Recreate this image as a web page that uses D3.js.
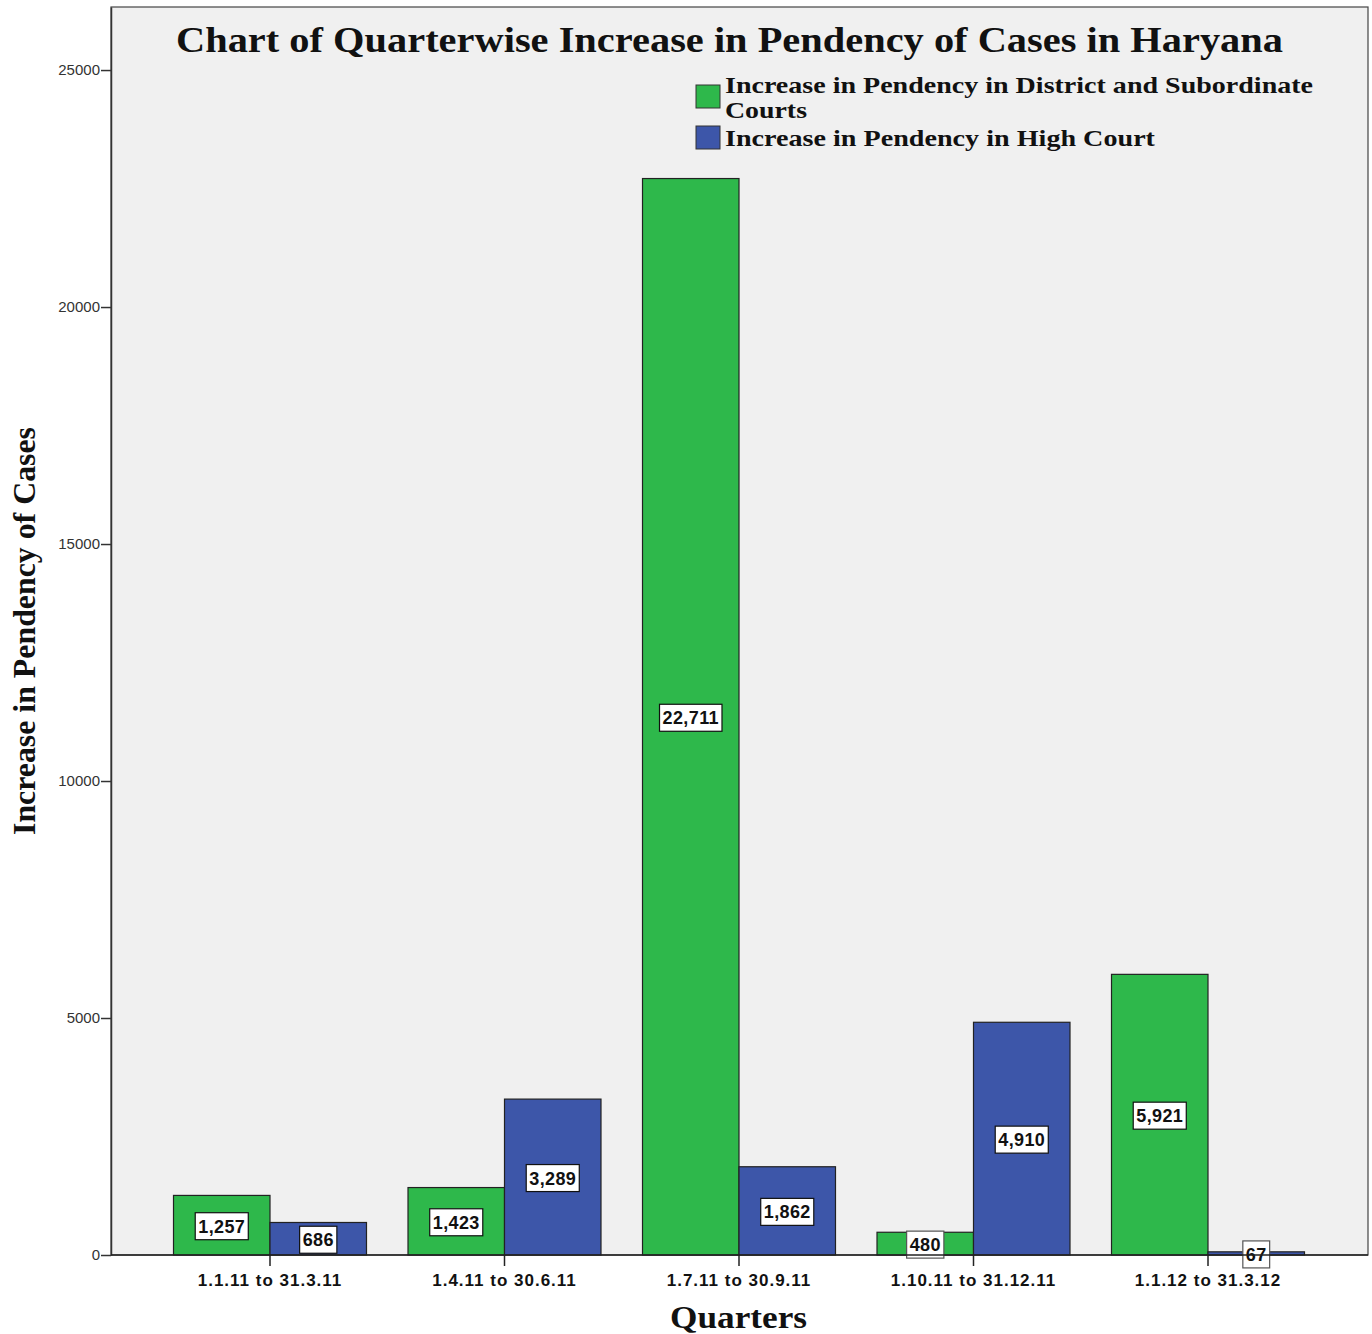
<!DOCTYPE html>
<html>
<head>
<meta charset="utf-8">
<script src="https://cdn.jsdelivr.net/npm/d3@7"></script>
<style>
  body { margin: 0; background: #fff; }
  svg { display: block; }
</style>
</head>
<body>
<svg width="1372" height="1334"></svg>
<script>
// Quarterwise increase in pendency (Haryana)
const quarters = ["1.1.11 to 31.3.11", "1.4.11 to 30.6.11", "1.7.11 to 30.9.11", "1.10.11 to 31.12.11", "1.1.12 to 31.3.12"];
const districtValues = [1257, 1423, 22711, 480, 5921];
const highCourtValues = [686, 3289, 1862, 4910, 67];
const seriesColors = ["#2eb84b", "#3d56a9"];
const yTicks = [0, 5000, 10000, 15000, 20000, 25000];

const svg = d3.select("svg");
const plot = { left: 111, right: 1368, top: 7, bottom: 1255 };
const serif = "Liberation Serif, Times New Roman, serif";
const sans = "Liberation Sans, Arial, sans-serif";

// plot background + frame
svg.append("rect")
  .attr("x", plot.left).attr("y", plot.top)
  .attr("width", plot.right - plot.left).attr("height", plot.bottom - plot.top)
  .attr("fill", "#f0f0f0")
  .attr("stroke", "#444").attr("stroke-width", 1.2);

const x = d3.scaleBand()
  .domain(quarters)
  .range([152.75, 1325.25])
  .paddingInner(0.177)
  .paddingOuter(0.0885);

const sub = d3.scaleBand()
  .domain([0, 1])
  .range([0, x.bandwidth()]);

const y = d3.scaleLinear()
  .domain([0, 26330])
  .range([plot.bottom, plot.top]);

const rows = quarters.map((q, i) => ({ q, vals: [districtValues[i], highCourtValues[i]] }));

const groups = svg.append("g").selectAll("g")
  .data(rows).join("g")
  .attr("transform", d => `translate(${x(d.q)},0)`);

groups.selectAll("rect")
  .data(d => d.vals.map((v, k) => ({ v, k })))
  .join("rect")
  .attr("x", d => sub(d.k))
  .attr("y", d => y(d.v))
  .attr("width", sub.bandwidth())
  .attr("height", d => y(0) - y(d.v))
  .attr("fill", d => seriesColors[d.k])
  .attr("stroke", "#222")
  .attr("stroke-width", 1.2);

// value labels in white boxes
const fmt = d3.format(",");
groups.selectAll("g.lbl")
  .data(d => d.vals.map((v, k) => ({ v, k })))
  .join("g")
  .attr("class", "lbl")
  .each(function(d) {
    const g = d3.select(this);
    const cx = sub(d.k) + sub.bandwidth() / 2;
    const cy = (y(d.v) + y(0)) / 2 + 1;
    const t = g.append("text")
      .attr("x", cx).attr("y", cy + 6.5)
      .attr("text-anchor", "middle")
      .style("font-family", sans)
      .style("font-weight", "bold")
      .style("font-size", "18px")
      .style("letter-spacing", "0.4px")
      .attr("fill", "#111")
      .text(fmt(d.v));
    const bb = t.node().getBBox();
    g.insert("rect", "text")
      .attr("x", bb.x - 3).attr("y", cy - 13.5)
      .attr("width", bb.width + 6).attr("height", 27)
      .attr("fill", "#fff")
      .attr("stroke", d.v < 600 ? "#555" : "#111")
      .attr("stroke-width", 1.2);
  });

// y axis
const yAxis = svg.append("g")
  .attr("transform", `translate(${plot.left},0)`)
  .call(d3.axisLeft(y).tickValues(yTicks).tickSize(10).tickSizeOuter(0).tickPadding(1).tickFormat(d3.format("d")));
yAxis.select(".domain").attr("stroke", "#333").attr("stroke-width", 1.5);
yAxis.selectAll(".tick line").attr("stroke", "#333").attr("stroke-width", 1.5);
yAxis.selectAll("text")
  .style("font-family", sans)
  .style("font-size", "15px")
  .attr("fill", "#333");

// x axis
const xAxis = svg.append("g")
  .attr("transform", `translate(0,${plot.bottom})`)
  .call(d3.axisBottom(x).tickSize(11).tickPadding(8).tickSizeOuter(0));
xAxis.select(".domain").attr("d", `M${plot.left},0H${plot.right}`).attr("stroke", "#222").attr("stroke-width", 1.5);
xAxis.selectAll(".tick line").attr("stroke", "#222").attr("stroke-width", 1.5);
xAxis.selectAll("text")
  .style("font-family", sans)
  .style("font-weight", "bold")
  .style("font-size", "17px")
  .style("letter-spacing", "1px")
  .attr("fill", "#111");

// helper for wide bold serif text
function serifText(xp, yp, size, width, str, anchor) {
  return svg.append("text")
    .attr("x", xp).attr("y", yp)
    .attr("text-anchor", anchor || "middle")
    .attr("textLength", width)
    .attr("lengthAdjust", "spacingAndGlyphs")
    .style("font-family", serif)
    .style("font-weight", "bold")
    .style("font-size", size + "px")
    .attr("fill", "#111")
    .text(str);
}

// title
serifText(729.5, 52, 36, 1107, "Chart of Quarterwise Increase in Pendency of Cases in Haryana");

// axis titles
serifText(738.5, 1328, 32, 137, "Quarters");
serifText(0, 0, 32, 408, "Increase in Pendency of Cases")
  .attr("transform", "translate(35,631) rotate(-90)");

// legend
svg.append("rect").attr("x", 696).attr("y", 85).attr("width", 24).attr("height", 23)
  .attr("fill", seriesColors[0]).attr("stroke", "#333").attr("stroke-width", 1);
svg.append("rect").attr("x", 696).attr("y", 126).attr("width", 24).attr("height", 23)
  .attr("fill", seriesColors[1]).attr("stroke", "#333").attr("stroke-width", 1);
serifText(725, 93, 23, 588, "Increase in Pendency in District and Subordinate", "start");
serifText(725, 118, 23, 82, "Courts", "start");
serifText(725, 146, 23, 430, "Increase in Pendency in High Court", "start");
</script>
</body>
</html>
